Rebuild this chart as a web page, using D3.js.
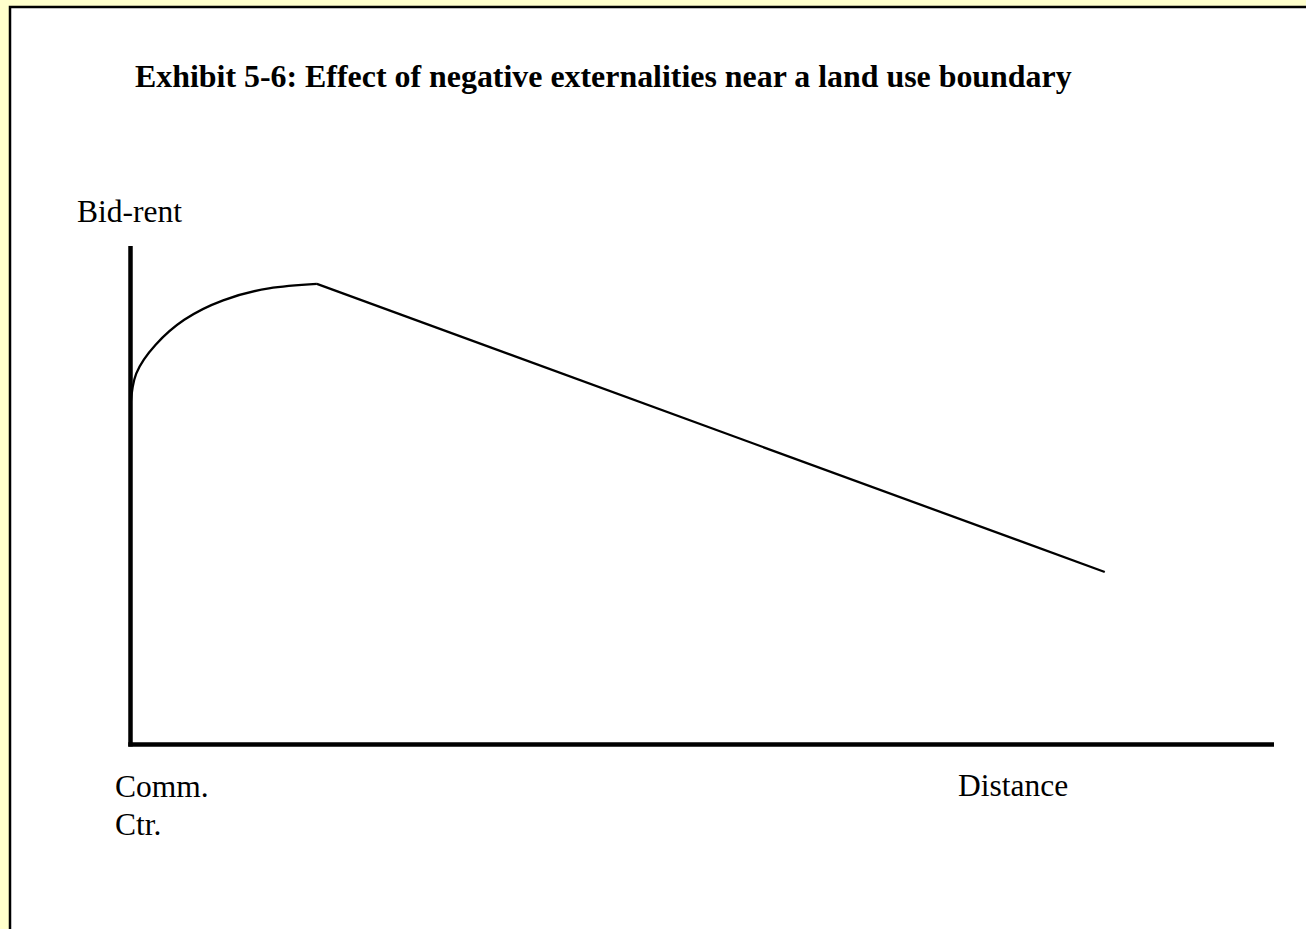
<!DOCTYPE html>
<html>
<head>
<meta charset="utf-8">
<script src="https://cdn.jsdelivr.net/npm/d3@7"></script>
<style>
  html, body { margin: 0; padding: 0; background: #ffffcc; }
  svg { display: block; }
  text { font-family: "Liberation Serif", "Times New Roman", serif; fill: #000; }
</style>
</head>
<body>
<script>
var width = 1306
var height = 929

// chart values (distance, bid-rent)
var riseDistance = [0, 0.5, 2.2, 4.7, 8.1, 12.1, 16.3]
var riseRent = [68.1, 74.4, 80.2, 85.2, 89.1, 91.5, 92.4]
var fallDistance = [16.3, 85.2]
var fallRent = [92.4, 34.6]

var titleText = "Exhibit 5-6: Effect of negative externalities near a land use boundary"
var yLabel = "Bid-rent"
var xLabelLeft = ["Comm.", "Ctr."]
var xLabelRight = "Distance"

let svg = d3.select("body").append("svg").attr("width", width).attr("height", height)

// white page with black top/left edge
svg.append("rect").attr("x", 9).attr("y", 6).attr("width", width - 9).attr("height", height - 6)
  .attr("fill", "#fff")
svg.append("path").attr("d", "M10,929V7H1306").attr("fill", "none")
  .attr("stroke", "#000").attr("stroke-width", 2.5)

var x = d3.scaleLinear().domain([0, 100]).range([130.5, 1274])
var y = d3.scaleLinear().domain([0, 100]).range([744.5, 246])

// axes
svg.append("line").attr("x1", x(0)).attr("x2", x(0)).attr("y1", y(0) + 2).attr("y2", y(100))
  .attr("stroke", "#000").attr("stroke-width", 4.5)
svg.append("line").attr("x1", x(0) - 2.25).attr("x2", x(100)).attr("y1", y(0)).attr("y2", y(0))
  .attr("stroke", "#000").attr("stroke-width", 4.5)

var rise = riseDistance.map((d, i) => [d, riseRent[i]])
var fall = fallDistance.map((d, i) => [d, fallRent[i]])

var curved = d3.line().x(d => x(d[0])).y(d => y(d[1])).curve(d3.curveNatural)
var straight = d3.line().x(d => x(d[0])).y(d => y(d[1]))

svg.append("path").attr("d", curved(rise)).attr("fill", "none")
  .attr("stroke", "#000").attr("stroke-width", 2.3)
svg.append("path").attr("d", straight(fall)).attr("fill", "none")
  .attr("stroke", "#000").attr("stroke-width", 2.3)

// labels
svg.append("text").attr("x", 135).attr("y", 87)
  .attr("font-size", 31.9).attr("font-weight", "bold").text(titleText)

svg.append("text").attr("x", 77).attr("y", 222).attr("font-size", 31.5).text(yLabel)

svg.selectAll(".xl").data(xLabelLeft).enter().append("text")
  .attr("x", 115).attr("y", (d, i) => 797 + i * 38)
  .attr("font-size", 31.5).text(d => d)

svg.append("text").attr("x", 958).attr("y", 796).attr("font-size", 31.5).text(xLabelRight)
</script>
</body>
</html>
